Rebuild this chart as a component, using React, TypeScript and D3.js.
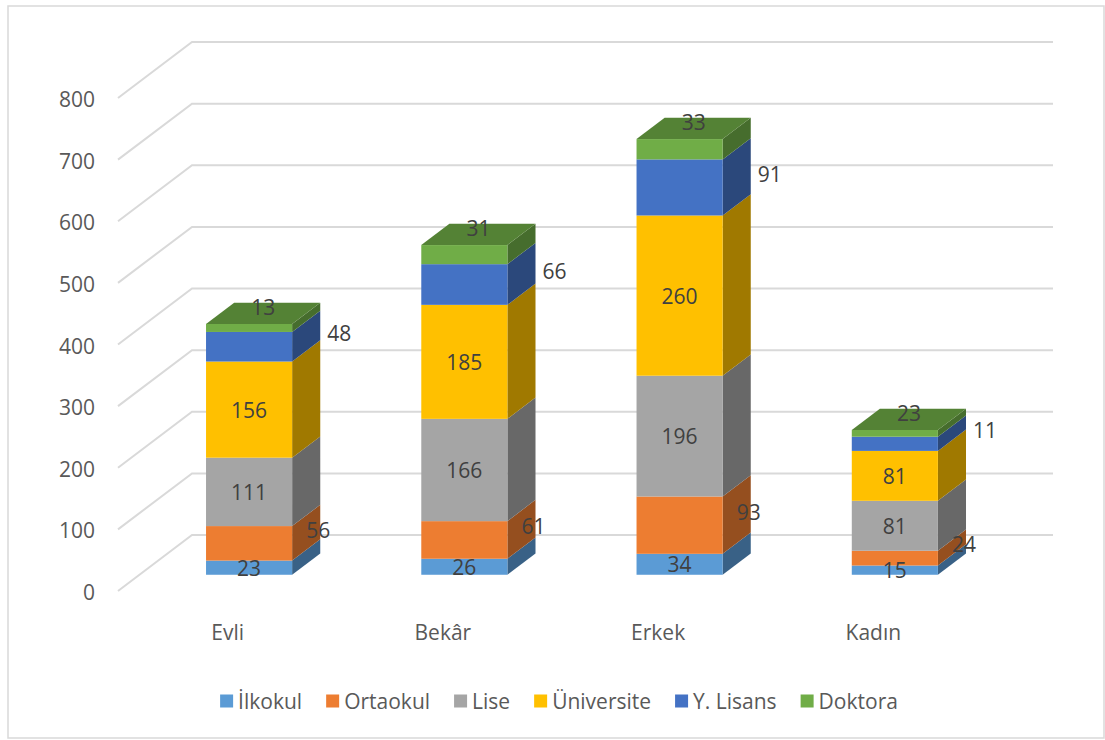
import React from "react";
import * as d3 from "d3";

const categories = ["Evli", "Bekâr", "Erkek", "Kadın"];
const seriesNames = ["İlkokul", "Ortaokul", "Lise", "Üniversite", "Y. Lisans", "Doktora"];
const ilkokul = [23, 26, 34, 15];
const ortaokul = [56, 61, 93, 24];
const lise = [111, 166, 196, 81];
const universite = [156, 185, 260, 81];
const yLisans = [48, 66, 91, 23];
const doktora = [13, 31, 33, 11];
const yTicks = [0, 100, 200, 300, 400, 500, 600, 700, 800];
const colors = ["#5B9BD5", "#ED7D31", "#A5A5A5", "#FFC000", "#4472C4", "#70AD47"];
const labelModes = ["front", "right", "front", "front", "right2", "top"];
// categories where Excel placed the Y. Lisans label on top and the Doktora label at the side
const swappedTopLabels = ["Kadın"];

const W = 1105;
const H = 740;
const DX = 74;
const DY = -56;
const Z_FRONT = 0.29;
const Z_BACK = 0.67;
const FONT = "'Open Sans', 'Noto Sans', sans-serif";
const FS = 21;

function measure(text: string): number {
  if (typeof document === "undefined") return text.length * FS * 0.55;
  const c = document.createElement("canvas").getContext("2d");
  if (!c) return text.length * FS * 0.55;
  c.font = `${FS}px 'Open Sans'`;
  return c.measureText(text).width;
}

export default function App() {
  const seriesValues = [ilkokul, ortaokul, lise, universite, yLisans, doktora];
  const rows = categories.map((c, i) => {
    const r: any = { cat: c };
    seriesNames.forEach((s, j) => (r[s] = seriesValues[j][i]));
    return r;
  });
  const stacked = d3.stack<any>().keys(seriesNames)(rows);

  const x = d3.scaleBand<string>().domain(categories).range([120, 981]).paddingInner(0).paddingOuter(0);
  const y = d3.scaleLinear().domain([0, 800]).range([591, 98]);
  const bw = x.bandwidth();
  const barW = bw * 0.4;
  const axisX = 118;
  const gridRight = 1053;

  const P = (px: number, v: number, z: number) => [px + z * DX, y(v) + z * DY];
  const pts = (arr: number[][]) => arr.map((p) => p.join(",")).join(" ");

  const bars: any[] = [];
  const labels: any[] = [];
  categories.forEach((cat, i) => {
    const x0 = (x(cat) as number) + (bw - barW) / 2;
    const x1 = x0 + barW;
    const swap = swappedTopLabels.includes(cat);
    stacked.forEach((layer, j) => {
      const [v0, v1] = layer[i];
      const col = d3.color(colors[j])!;
      const side = col.darker(1.3).formatHex();
      const top = col.darker(0.8).formatHex();
      const f0 = P(x0, v1, Z_FRONT);
      const f1 = P(x1, v0, Z_FRONT);
      bars.push(
        <g key={`b${i}-${j}`}>
          <polygon
            points={pts([P(x1, v1, Z_FRONT), P(x1, v1, Z_BACK), P(x1, v0, Z_BACK), P(x1, v0, Z_FRONT)])}
            fill={side}
          />
          <rect x={f0[0]} y={f0[1]} width={f1[0] - f0[0]} height={f1[1] - f0[1]} fill={colors[j]} />
          {j === stacked.length - 1 && (
            <polygon
              points={pts([P(x0, v1, Z_FRONT), P(x1, v1, Z_FRONT), P(x1, v1, Z_BACK), P(x0, v1, Z_BACK)])}
              fill={top}
            />
          )}
        </g>
      );
      let textJ = j;
      if (swap && j === 4) textJ = 5;
      else if (swap && j === 5) textJ = 4;
      const val = seriesValues[textJ][i];
      const mode = labelModes[j];
      const zm = (Z_FRONT + Z_BACK) / 2;
      let lx: number, ly: number;
      if (mode === "front") {
        const c = P((x0 + x1) / 2, (v0 + v1) / 2, Z_FRONT);
        lx = c[0];
        ly = c[1];
      } else if (mode === "top") {
        const c = P((x0 + x1) / 2, v1, zm);
        lx = c[0];
        ly = c[1] - 6;
      } else {
        const c = P(x1, (v0 + v1) / 2, zm);
        lx = c[0] + (mode === "right" ? 12 : 33);
        ly = c[1] - 3;
      }
      labels.push(
        <text key={`l${i}-${j}`} x={lx} y={ly} textAnchor="middle" dominantBaseline="central" fill="#404040">
          {val}
        </text>
      );
    });
  });

  // legend layout
  const sq = 13;
  const gapText = 5;
  const gapItem = 24;
  const widths = seriesNames.map((s) => measure(s));
  const total = widths.reduce((a, w) => a + sq + gapText + w, 0) + gapItem * (seriesNames.length - 1);
  let lxStart = 559 - total / 2;
  const legendY = 701;
  const legendItems = seriesNames.map((s, j) => {
    const gx = lxStart;
    lxStart += sq + gapText + widths[j] + gapItem;
    return (
      <g key={`lg${j}`}>
        <rect x={gx} y={legendY - sq / 2} width={sq} height={sq} fill={colors[j]} />
        <text x={gx + sq + gapText} y={legendY} dominantBaseline="central" fill="#595959">
          {s}
        </text>
      </g>
    );
  });

  return (
    <svg
      width={W}
      height={H}
      style={{ position: "absolute", left: 0, top: 0, background: "#fff" }}
      fontFamily={FONT}
      fontSize={FS}
    >
      <rect x={0} y={0} width={W} height={H} fill="#fff" />
      <rect x={8} y={6} width={1096} height={732} fill="none" stroke="#d9d9d9" strokeWidth={1.5} />
      <g stroke="#d9d9d9" strokeWidth={2} fill="none">
        {yTicks.map((t) => {
          const a = [axisX, y(t)];
          const b = [axisX + DX, y(t) + DY];
          return <polyline key={`g${t}`} points={pts([a, b, [gridRight, y(t) + DY]])} />;
        })}
      </g>
      <g fill="#595959" textAnchor="end">
        {yTicks.map((t) => (
          <text key={`t${t}`} x={95} y={y(t) + 1} dominantBaseline="central">
            {t}
          </text>
        ))}
      </g>
      {bars}
      <g>{labels}</g>
      <g fill="#595959" textAnchor="middle">
        {categories.map((c) => (
          <text key={`c${c}`} x={(x(c) as number) + bw / 2} y={632} dominantBaseline="central">
            {c}
          </text>
        ))}
      </g>
      {legendItems}
    </svg>
  );
}
